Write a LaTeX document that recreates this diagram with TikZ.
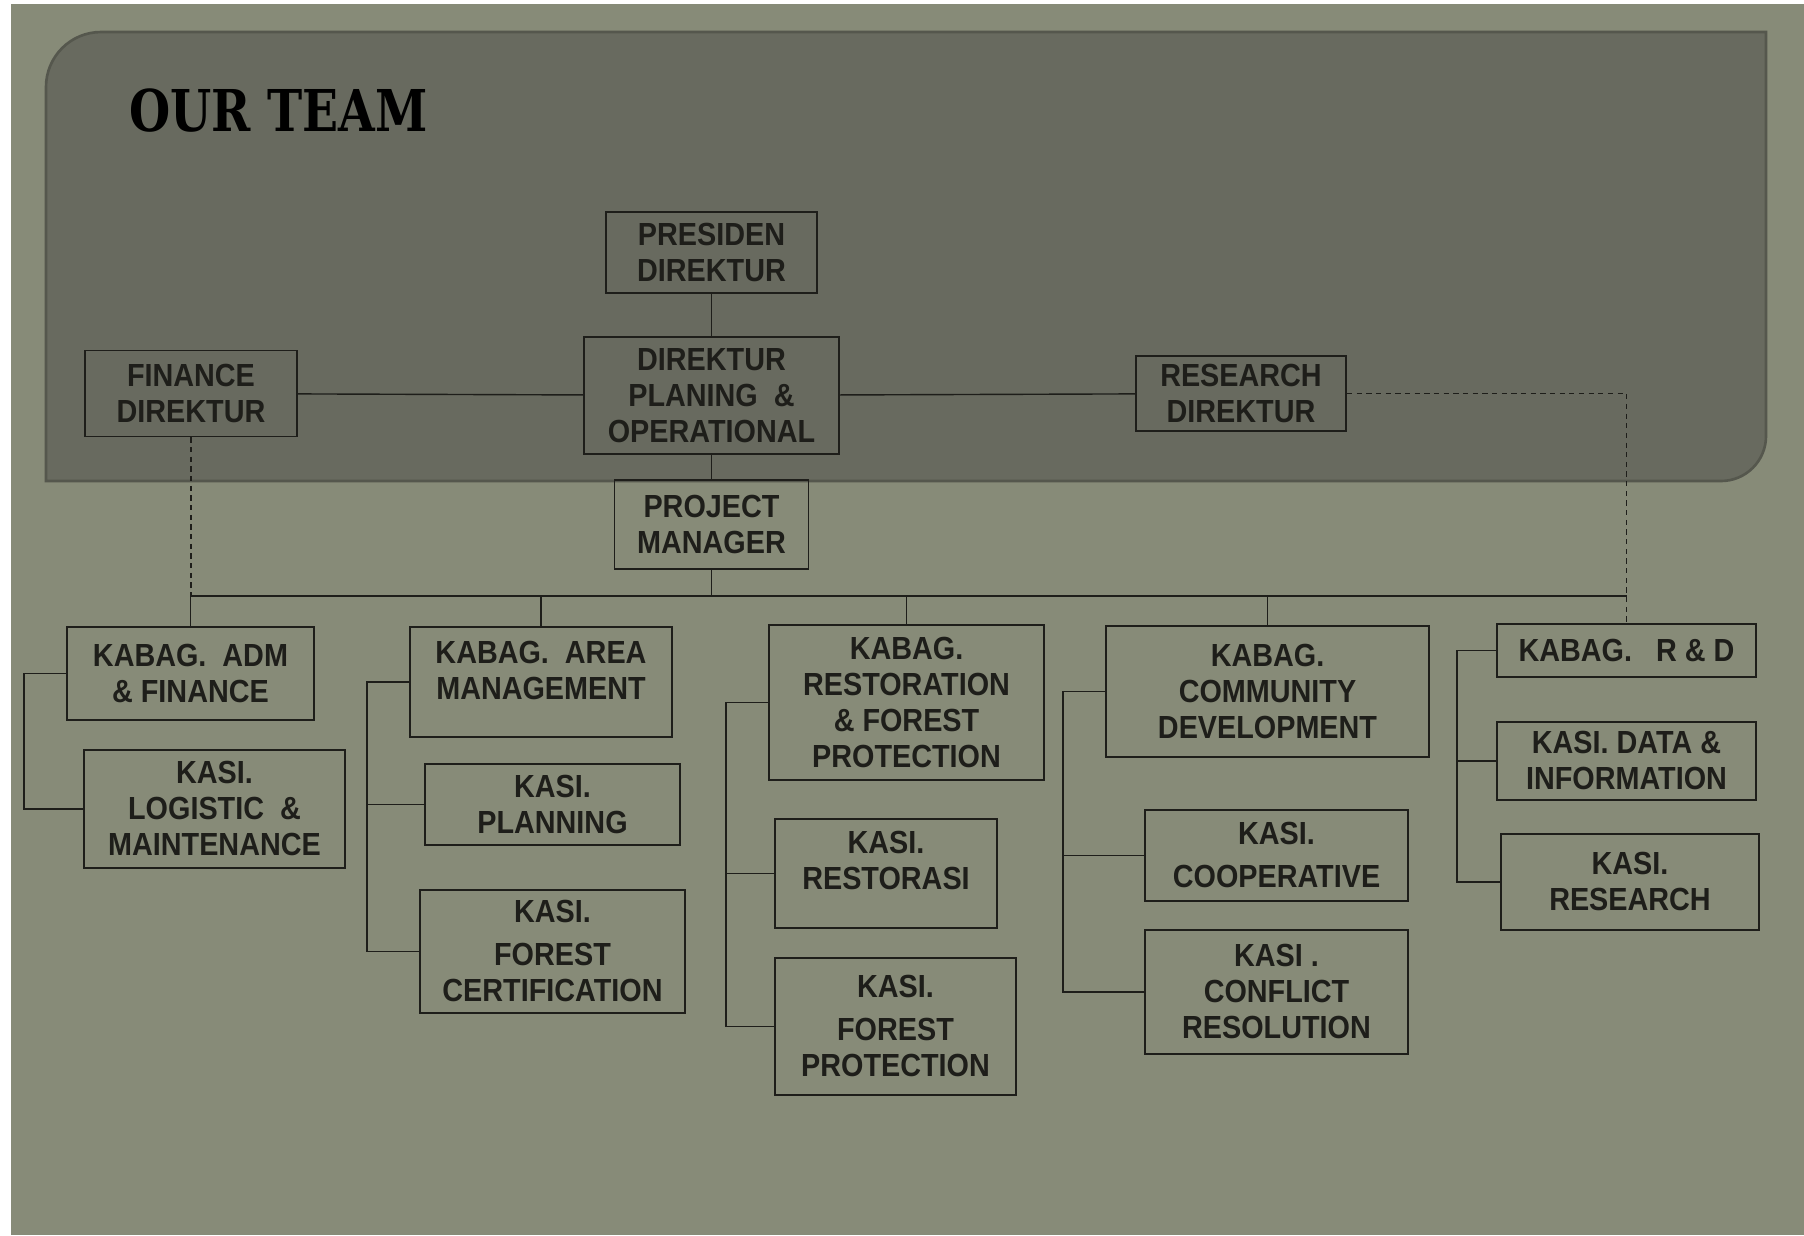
\documentclass[tikz,border=0pt]{standalone}
\usepackage{fontspec}
\setmainfont{Liberation Sans}
\newfontfamily\boxfont{Liberation Sans}[FakeStretch=0.9]
\newfontfamily\titlefont{DejaVu Serif}[FakeStretch=0.82]
\usepackage{tikz}
\usetikzlibrary{positioning}

\definecolor{slidebg}{HTML}{878B78}
\definecolor{panelbg}{HTML}{686A5F}
\definecolor{paneledge}{HTML}{55574D}
\definecolor{inkline}{HTML}{1E1E1A}

\tikzset{
  box/.style={draw=inkline, line width=1.1pt, inner sep=0pt, align=center,
    font=\boxfont\bfseries\fontsize{18.2}{20.5}\selectfont, text=inkline},
  link/.style={draw=inkline, line width=0.8pt},
  dashlink/.style={draw=inkline, line width=0.8pt, dash pattern=on 3pt off 2.5pt},
}

\begin{document}
\begin{tikzpicture}[x=0.02cm, y=-0.02cm]
		\useasboundingbox (0,0) rectangle (1804,1235);
		\fill[white] (0,0) rectangle (1804,1235);
		\fill[slidebg] (11,4) rectangle (1804,1235);
		\filldraw[fill=panelbg, draw=paneledge, line width=1.5pt] (46,481) -- (46,87) arc[start angle=180, end angle=90, radius=1.1cm] -- (1766,32) -- (1766,436) arc[start angle=0, end angle=-90, radius=0.9cm] -- cycle;
		\node[anchor=base west, inner sep=0pt, text=black, font=\titlefont\bfseries\fontsize{32.8}{36}\selectfont] (title) at (129,131) {OUR TEAM};
		
		% top of the chart
		\node[box, minimum width=4.22cm, minimum height=1.62cm] (pres) at (711.5,252.5) {PRESIDEN\\DIREKTUR};
		\node[box, minimum width=5.1cm, minimum height=2.34cm, below=0.84cm of pres] (dpo) {DIREKTUR\\PLANING~~\&\\OPERATIONAL};
		\node[box, minimum width=4.24cm, minimum height=1.72cm] (fin) at (191,393.5) {FINANCE\\DIREKTUR};
		\node[box, minimum width=4.2cm, minimum height=1.5cm] (res) at (1241,393.5) {RESEARCH\\DIREKTUR};
		\node[box, minimum width=3.88cm, minimum height=1.78cm, below=0.48cm of dpo] (pm) {PROJECT\\MANAGER};
		
		% kabag row
		\node[box, minimum width=4.94cm, minimum height=1.86cm] (kadm) at (190.5,673.5) {KABAG.~~ADM\\\&~FINANCE};
		\node[box, minimum width=5.24cm, minimum height=2.2cm] (karea) at (541,682) {KABAG.~~AREA\\MANAGEMENT\\[-7pt]\mbox{}};
		\node[box, minimum width=5.5cm, minimum height=3.1cm] (kres) at (906.5,702.5) {KABAG.\\RESTORATION\\\&~FOREST\\PROTECTION};
		\node[box, minimum width=6.46cm, minimum height=2.62cm] (kcom) at (1267.5,691.5) {KABAG.\\COMMUNITY\\DEVELOPMENT};
		\node[box, minimum width=5.18cm, minimum height=1.06cm] (krd) at (1626.5,650.5) {KABAG.~~~R~\&~D};
		
		% kasi boxes
		\node[box, minimum width=5.22cm, minimum height=2.36cm, below=0.56cm of kadm, xshift=0.48cm] (klog) {KASI.\\LOGISTIC~~\&\\MAINTENANCE};
		\node[box, minimum width=5.1cm, minimum height=1.62cm, below=0.5cm of karea, xshift=0.23cm] (kplan) {KASI.\\PLANNING};
		\node[box, minimum width=5.3cm, minimum height=2.46cm, below=0.86cm of kplan] (kcert) {KASI.\\[4pt]FOREST\\CERTIFICATION};
		\node[box, minimum width=4.44cm, minimum height=2.18cm, below=0.74cm of kres, xshift=-0.41cm] (krest) {KASI.\\RESTORASI\\[-6pt]\mbox{}};
		\node[box, minimum width=4.82cm, minimum height=2.74cm, below=0.56cm of krest, xshift=0.19cm] (kprot) {KASI.\\[4pt]FOREST\\PROTECTION};
		\node[box, minimum width=5.26cm, minimum height=1.82cm, below=1.02cm of kcom, xshift=0.18cm] (kcoop) {KASI.\\[4pt]COOPERATIVE};
		\node[box, minimum width=5.26cm, minimum height=2.48cm, below=0.54cm of kcoop] (kconf) {KASI~.\\CONFLICT\\RESOLUTION};
		\node[box, minimum width=5.18cm, minimum height=1.56cm, below=0.86cm of krd] (kdata) {KASI.~DATA~\&\\INFORMATION};
		\node[box, minimum width=5.16cm, minimum height=1.92cm, below=0.64cm of kdata, xshift=0.07cm] (kresr) {KASI.\\RESEARCH};
		
		% lines between the direktur boxes
		\draw[link] (pres) -- (dpo);
		\draw[link] (fin) -- (dpo);
		\draw[link] (dpo) -- (res);
		\draw[link] (dpo.south) -- (dpo.south |- pm.north);
		
		% bus under the project manager
		\coordinate (bus) at (711,596);
		\draw[link] (pm.south) -- (pm.south |- bus);
		\draw[link] (kadm.north |- bus) -- (krd.north |- bus);
		\foreach \k in {kadm,karea,kres,kcom}
			\draw[link] (\k.north |- bus) -- (\k.north);
		\draw[dashlink] (fin.south) -- (fin.south |- bus);
		\draw[dashlink] (res.east) -| (krd.north);
		
		% brackets to the kasi boxes
		\draw[link] (kadm.west) -- ++(-42,0) |- (klog.west);
		\draw[link] (karea.west) -- ++(-42,0) coordinate (ba) |- (kcert.west);
		\draw[link] (ba |- kplan.west) -- (kplan.west);
		\draw[link] (kres.west) -- ++(-42,0) coordinate (br) |- (kprot.west);
		\draw[link] (br |- krest.west) -- (krest.west);
		\draw[link] (kcom.west) -- ++(-42,0) coordinate (bc) |- (kconf.west);
		\draw[link] (bc |- kcoop.west) -- (kcoop.west);
		\draw[link] (krd.west) -- ++(-39,0) coordinate (bd) |- (kresr.west);
		\draw[link] (bd |- kdata.west) -- (kdata.west);
	\end{tikzpicture}
\end{document}
